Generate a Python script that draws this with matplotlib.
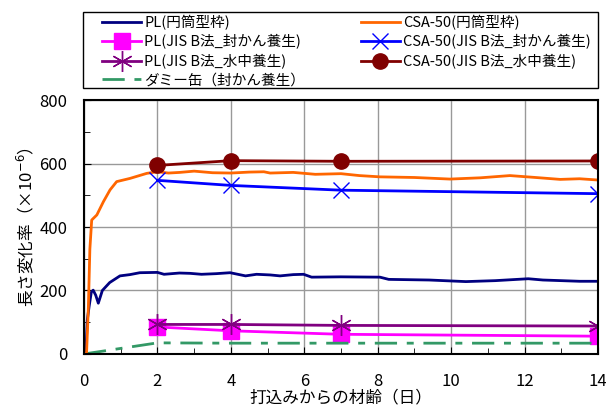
import matplotlib.pyplot as plt
from matplotlib.patches import Rectangle

plt.rcParams['font.family'] = ['Noto Sans CJK JP', 'DejaVu Sans']

# 連続測定（円筒型枠）
pl_days = [0.0, 0.05, 0.09, 0.14, 0.2, 0.25, 0.32, 0.39, 0.5, 0.7, 0.98, 1.25, 1.52, 2.0, 2.18,
           2.6, 2.89, 3.2, 3.6, 3.98, 4.4, 4.7, 5.07, 5.34, 5.7, 5.98, 6.2, 7.0, 8.06, 8.3,
           9.4, 10.4, 11.2, 12.1, 12.5, 13.5, 14.0]
pl_cyl = [0, 5, 107, 150, 195, 201, 185, 160, 200, 225, 246, 250, 256, 257, 251,
          255, 254, 251, 253, 256, 246, 251, 249, 246, 250, 251, 242, 243, 242, 235,
          233, 228, 231, 237, 233, 229, 229]

csa_days = [0.0, 0.07, 0.12, 0.16, 0.21, 0.35, 0.53, 0.71, 0.89, 1.25, 1.71, 2.0, 2.3,
            2.61, 3.0, 3.5, 4.0, 4.5, 4.9, 5.07, 5.7, 6.3, 7.0, 7.5, 8.06, 9.0, 9.97,
            10.8, 11.6, 12.3, 12.97, 13.5, 14.0]
csa_cyl = [0, 3, 150, 330, 422, 438, 480, 517, 543, 553, 569, 574, 570,
           572, 576, 571, 570, 573, 574, 570, 572, 566, 568, 562, 558, 556, 551,
           555, 562, 556, 550, 552, 548]

# JIS B法（材齢 2, 4, 7, 14 日）
jis_days = [2, 4, 7, 14]
pl_sealed = [85, 73, 62, 56]
pl_water = [93, 93, 90, 88]
csa_sealed = [547, 531, 516, 505]
csa_water = [594, 609, 607, 608]

# ダミー缶
dummy_days = [0, 2, 4, 7, 14]
dummy_sealed = [0, 35, 34, 34, 34]

fig = plt.figure(figsize=(6.06, 4.05), dpi=100)
ax = fig.add_axes([0.1386, 0.126, 0.8482, 0.627])

ax.plot(pl_days, pl_cyl, color='#000080', lw=2, label='PL(円筒型枠)')
ax.plot(jis_days, pl_sealed, color='#FF00FF', lw=2, marker='s', ms=12,
        label='PL(JIS B法_封かん養生)')
ax.plot(jis_days, pl_water, color='#800080', lw=2, marker=(6, 2, 0), ms=15,
        mew=1, label='PL(JIS B法_水中養生)')
ax.plot(dummy_days, dummy_sealed, color='#339966', lw=2, dashes=(8, 3.5, 2.5, 3.5),
        label='ダミー缶（封かん養生）')
ax.plot(csa_days, csa_cyl, color='#FF6600', lw=2, label='CSA-50(円筒型枠)')
ax.plot(jis_days, csa_sealed, color='#0000FF', lw=2, marker='x', ms=12, mew=1,
        label='CSA-50(JIS B法_封かん養生)')
ax.plot(jis_days, csa_water, color='#800000', lw=2, marker='o', ms=11,
        label='CSA-50(JIS B法_水中養生)')

ax.set_xlim(0, 14)
ax.set_ylim(0, 800)
ax.set_xticks(range(0, 15, 2))
ax.set_xticks(range(1, 14, 2), minor=True)
ax.set_yticks(range(0, 801, 200))
ax.set_yticks(range(100, 800, 200), minor=True)
ax.grid(True, which='major', color='#999999', lw=1)
ax.tick_params(which='both', direction='in', labelsize=12)
ax.tick_params(which='major', length=5)
ax.tick_params(which='minor', length=4)
ax.tick_params(axis='x', pad=14)
ax.tick_params(axis='y', pad=12)
for s in ax.spines.values():
    s.set_linewidth(1.5)

ax.set_xlabel('打込みからの材齢（日）', fontsize=12, labelpad=-1)
ax.set_ylabel('長さ変化率（×10$^{-6}$）', fontsize=12, labelpad=2)

# 凡例枠
fig.patches.append(Rectangle((83 / 606, 1 - 88 / 405), 515 / 606, 76 / 405,
                             transform=fig.transFigure, fill=False,
                             edgecolor='black', lw=1))
fig.legend(loc='upper left', bbox_to_anchor=(99 / 606, 1 - 12 / 405),
           ncol=2, fontsize=10.5, frameon=False, handlelength=2.7,
           borderaxespad=0, borderpad=0.2, labelspacing=0.3,
           handletextpad=0.2, columnspacing=3.8)

fig.savefig('out.png', dpi=100)
